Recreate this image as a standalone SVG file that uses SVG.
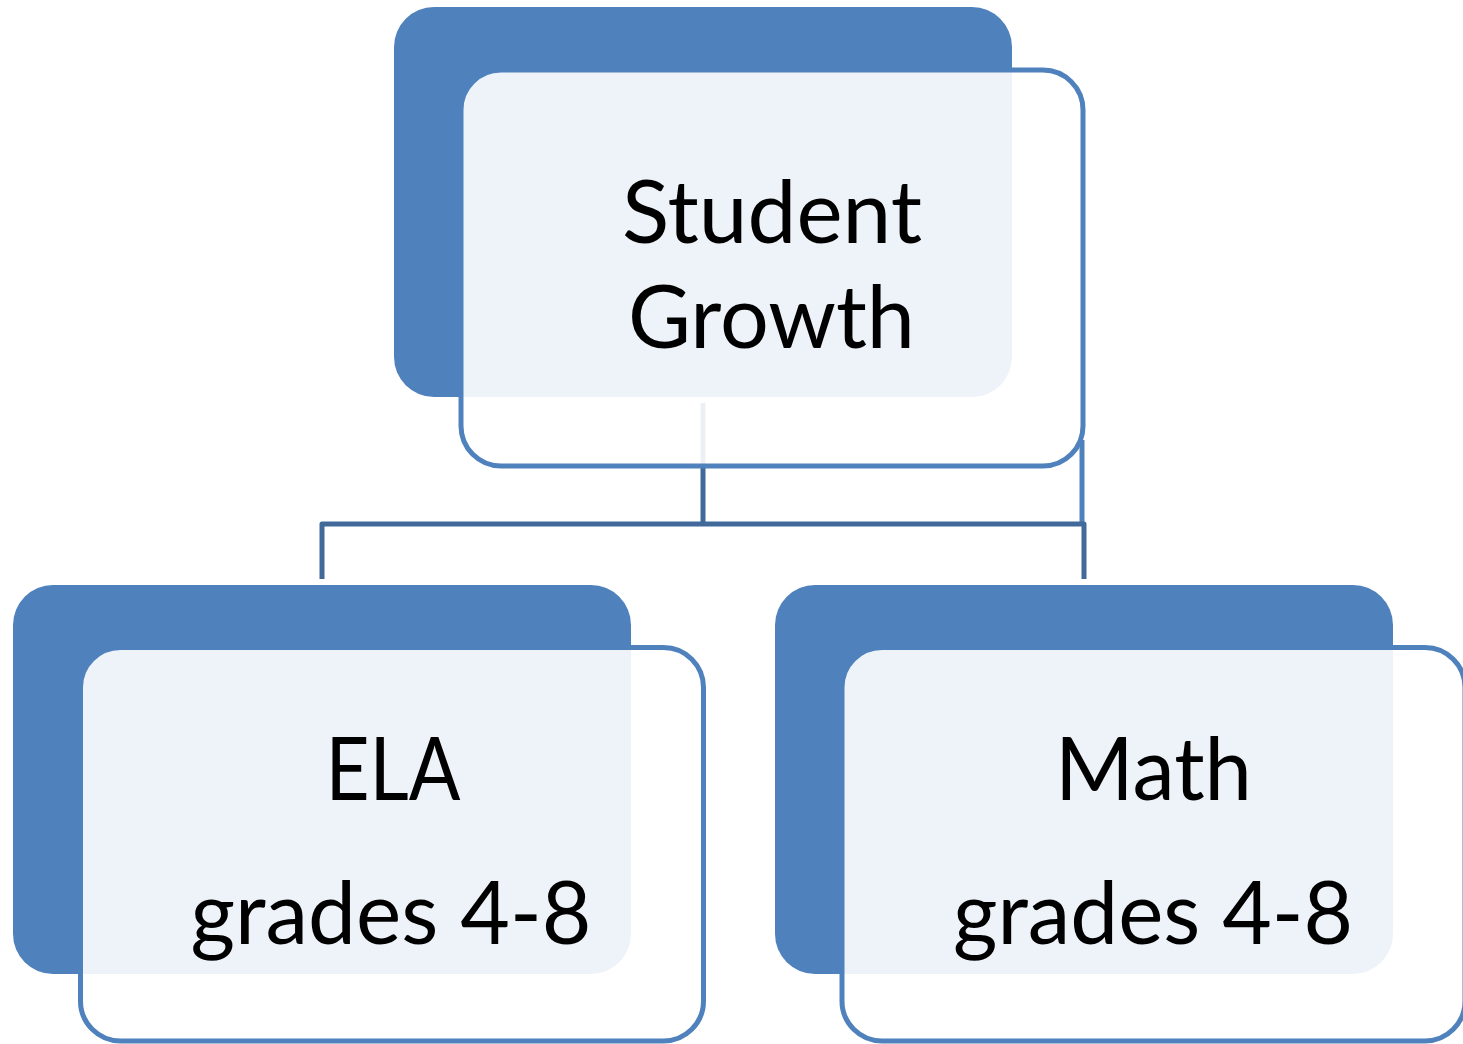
<svg xmlns="http://www.w3.org/2000/svg" width="1463" height="1044" viewBox="0 0 1463 1044">
<style>
.back{fill:#4F81BD;}
.front{fill:#FFFFFF;fill-opacity:0.9;stroke:#4F81BD;stroke-width:5;}
.conn{stroke:#41699A;stroke-width:5;fill:none;stroke-linejoin:round;}
.edge{stroke:#4F81BD;stroke-width:5;fill:none;}
.lbl{font-family:Lato,"Open Sans","Noto Sans",sans-serif;font-size:87px;fill:#000000;text-anchor:middle;}
</style>
<rect width="1463" height="1044" fill="#FFFFFF"/>
<g id="connectors">
<line class="edge" x1="1082" y1="440" x2="1082" y2="524"/>
<path class="conn" d="M703,403 V524"/>
<path class="conn" d="M322,579 V524 H1084 V579"/>
</g>
<g id="node-student-growth">
<rect class="back" x="394" y="7" width="618" height="390" rx="40" ry="40"/>
<rect class="front" x="461" y="70" width="622" height="396" rx="40" ry="40"/>
<text class="lbl"><tspan x="772" y="243" textLength="300" lengthAdjust="spacingAndGlyphs">Student</tspan><tspan x="771.5" y="348" textLength="287" lengthAdjust="spacingAndGlyphs">Growth</tspan></text>
</g>
<g id="node-ela">
<rect class="back" x="13" y="585" width="618" height="389" rx="40" ry="40"/>
<rect class="front" x="80.5" y="647.5" width="623" height="393.5" rx="40" ry="40"/>
<text class="lbl" x="393" y="800" textLength="135" lengthAdjust="spacingAndGlyphs">ELA</text>
<text class="lbl" x="391" y="944" textLength="401" lengthAdjust="spacingAndGlyphs">grades 4-8</text>
</g>
<g id="node-math">
<rect class="back" x="775" y="585" width="618" height="389" rx="40" ry="40"/>
<rect class="front" x="842" y="647.5" width="623" height="393.5" rx="40" ry="40"/>
<text class="lbl" x="1153.5" y="800" textLength="197" lengthAdjust="spacingAndGlyphs">Math</text>
<text class="lbl" x="1153" y="944" textLength="400" lengthAdjust="spacingAndGlyphs">grades 4-8</text>
</g>
</svg>
